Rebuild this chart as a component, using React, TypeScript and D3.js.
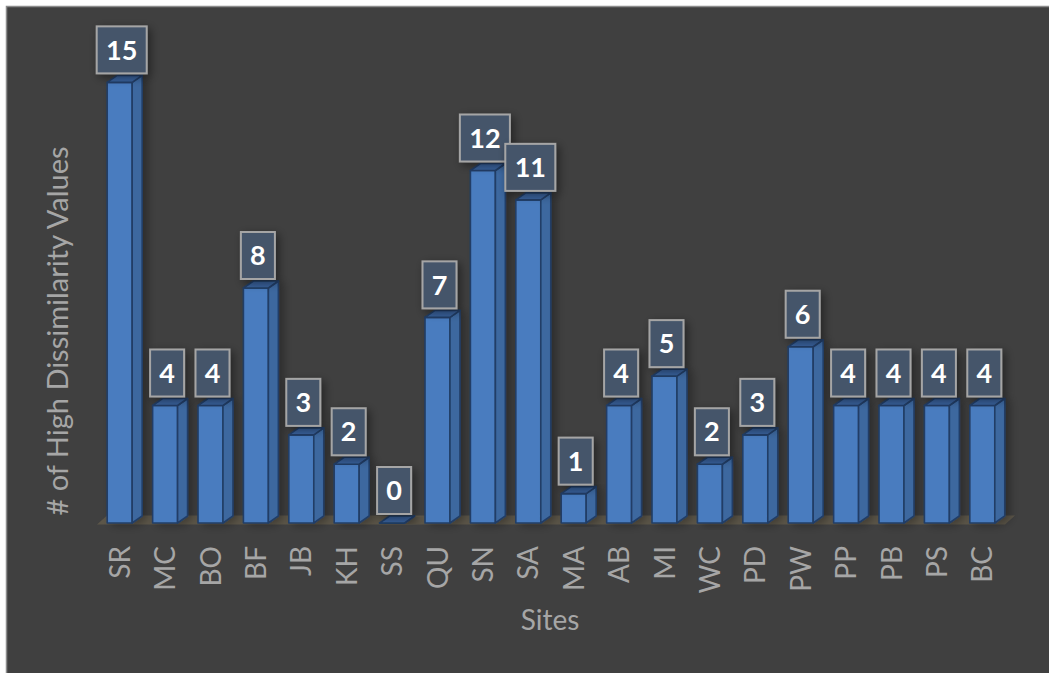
import React from "react";
import * as d3 from "d3";

const sites = ["SR","MC","BO","BF","JB","KH","SS","QU","SN","SA","MA","AB","MI","WC","PD","PW","PP","PB","PS","BC"];
const counts = [15,4,4,8,3,2,0,7,12,11,1,4,5,2,3,6,4,4,4,4];
const yTitle = "# of High Dissimilarity Values";
const xTitle = "Sites";

const W = 1049, H = 673;
const FONT = "Lato, 'Open Sans', sans-serif";

export default function App() {
  const x = d3.scaleBand<string>().domain(sites).range([97, 1005]).paddingInner(0.45).paddingOuter(0.225);
  const y = d3.scaleLinear().domain([0, 16]).range([523, 53]);
  const dx = 10, dy = 7;
  const bw = x.bandwidth();
  const y0 = y(0);

  return (
    <svg width={W} height={H} style={{ position: "absolute", left: 0, top: 0, background: "#ffffff" }}>
      <defs>
        <filter id="boxShadow" x="-50%" y="-50%" width="200%" height="200%">
          <feGaussianBlur in="SourceAlpha" stdDeviation="5" />
          <feOffset dx="3" dy="3" result="b" />
          <feComponentTransfer><feFuncA type="linear" slope="0.45" /></feComponentTransfer>
          <feMerge><feMergeNode /><feMergeNode in="SourceGraphic" /></feMerge>
        </filter>
        <filter id="barShadow" x="-50%" y="-10%" width="200%" height="120%">
          <feGaussianBlur in="SourceAlpha" stdDeviation="4" />
          <feOffset dx="5" dy="2" result="b" />
          <feComponentTransfer><feFuncA type="linear" slope="0.3" /></feComponentTransfer>
          <feMerge><feMergeNode /><feMergeNode in="SourceGraphic" /></feMerge>
        </filter>
      </defs>
      <rect x={6.5} y={6.5} width={W + 10} height={H + 10} fill="#404040" stroke="#8c8c8c" strokeWidth={1.5} />
      {/* floor */}
      <path
        d={`M${97},${y0 + 1.5} L${1005},${y0 + 1.5} L${1005 + dx},${y0 - dy - 0.5} L${97 + dx},${y0 - dy - 0.5} Z`}
        fill="#5c5649"
      />
      {/* bars */}
      {sites.map((s, i) => {
        const x0 = x(s)!;
        const top = y(counts[i]);
        const front = `M${x0},${y0} L${x0 + bw},${y0} L${x0 + bw},${top} L${x0},${top} Z`;
        const side = `M${x0 + bw},${y0} L${x0 + bw + dx},${y0 - dy} L${x0 + bw + dx},${top - dy} L${x0 + bw},${top} Z`;
        const lid = `M${x0},${top} L${x0 + bw},${top} L${x0 + bw + dx},${top - dy} L${x0 + dx},${top - dy} Z`;
        return (
          <g key={s} filter="url(#barShadow)">
            <path d={front} fill="#4a7cbf" stroke="#213e66" strokeWidth={1.6} strokeLinejoin="round" />
            <path d={side} fill="#3c679f" stroke="#213e66" strokeWidth={1.6} strokeLinejoin="round" />
            <path d={lid} fill="#38609a" stroke="#213e66" strokeWidth={1.6} strokeLinejoin="round" />
          </g>
        );
      })}
      {/* data labels */}
      {sites.map((s, i) => {
        const cx = x(s)! + bw / 2 + 2;
        const bottom = y(counts[i]) - 9;
        const label = String(counts[i]);
        const bwid = label.length > 1 ? 50 : 34;
        const bh = 47;
        return (
          <g key={"l" + s}>
            <rect x={cx - bwid / 2} y={bottom - bh} width={bwid} height={bh} fill="#44546a" stroke="#a5a5a5" strokeWidth={2} filter="url(#boxShadow)" />
            <text x={cx} y={bottom - bh / 2} dy="0.36em" textAnchor="middle" fill="#ffffff" fontFamily={FONT} fontWeight={700} fontSize={27}>{label}</text>
          </g>
        );
      })}
      {/* x tick labels */}
      {sites.map((s) => (
        <text key={"t" + s} transform={`translate(${x(s)! + bw / 2},546) rotate(-90)`} textAnchor="end" dy="0.36em" fill="#a6a6a6" fontFamily={FONT} fontSize={28}>{s}</text>
      ))}
      <text transform="translate(68,331) rotate(-90)" textAnchor="middle" fill="#a6a6a6" fontFamily={FONT} fontSize={29}>{yTitle}</text>
      <text x={550} y={630} textAnchor="middle" fill="#a6a6a6" fontFamily={FONT} fontSize={28}>{xTitle}</text>
    </svg>
  );
}
